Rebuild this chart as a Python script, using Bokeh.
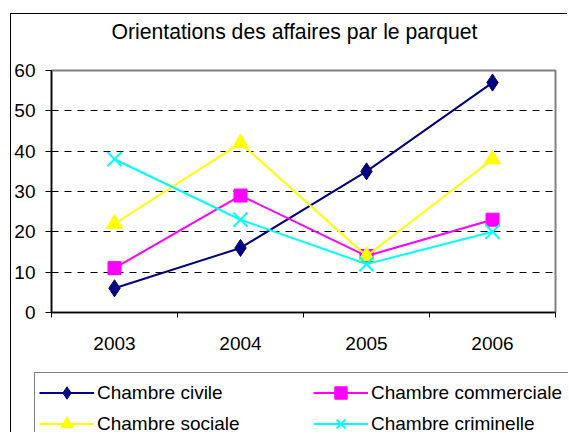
from bokeh.plotting import figure
from bokeh.models import (ColumnDataSource, FixedTicker, Legend, LegendItem, Range1d, Title)
from bokeh.embed import file_html
from bokeh.resources import INLINE

years = ["2003", "2004", "2005", "2006"]
civile = [6, 16, 35, 57]
commerciale = [11, 29, 14, 23]
sociale = [22, 42, 14, 38]
criminelle = [38, 23, 12, 20]
y_ticks = [0, 10, 20, 30, 40, 50, 60]
grid_ticks = [10, 20, 30, 40, 50]

series = [
    ("Chambre civile", "civile", civile, "#000080", "diamond", 17),
    ("Chambre commerciale", "commerciale", commerciale, "#FF00FF", "square", 13),
    ("Chambre sociale", "sociale", sociale, "#FFFF00", "triangle", 16),
    ("Chambre criminelle", "criminelle", criminelle, "#00FFFF", "x", 20),
]

xs = [i + 0.5 for i in range(len(years))]
FONT = "Liberation Sans"
W = 557

src = ColumnDataSource(dict(x=xs, civile=civile, commerciale=commerciale,
                            sociale=sociale, criminelle=criminelle))

# ---------------- main chart ----------------
p = figure(width=W, height=346, output_backend="svg", toolbar_location=None,
           x_range=Range1d(0, len(years)), y_range=Range1d(0, 60),
           min_border_left=40, min_border_right=13, min_border_top=56, min_border_bottom=48,
           title="Orientations des affaires par le parquet")
p.styles = {"border-left": "1px solid black", "border-top": "1px solid black",
            "margin-left": "10px", "margin-top": "13px"}
p.background_fill_color = "white"
p.border_fill_color = "white"
p.outline_line_color = "#808080"
p.outline_line_width = 2

p.title.text_font = FONT
p.title.text_font_size = "21.2px"
p.title.text_font_style = "normal"
p.title.align = "left"
p.title.offset = 60
p.title.vertical_align = "bottom"
p.title.text_color = "black"
p.title.standoff = 0

spacer = Title(text=" ", text_font_size="2px", standoff=24)
p.add_layout(spacer, "above")

p.xaxis.ticker = FixedTicker(ticks=xs, minor_ticks=list(range(len(years) + 1)))
p.xaxis.major_label_overrides = {x: y for x, y in zip(xs, years)}
p.xaxis.major_tick_out = 0
p.xaxis.major_tick_in = 0
p.xaxis.minor_tick_out = 5
p.xaxis.minor_tick_in = 0
p.xaxis.minor_tick_line_color = "black"
p.xaxis.axis_line_color = "black"
p.xaxis.axis_line_width = 1.5
p.xaxis.major_label_standoff = 19
p.xaxis.major_label_text_font = FONT
p.xaxis.major_label_text_font_size = "19px"
p.xaxis.major_label_text_color = "black"

p.yaxis.ticker = FixedTicker(ticks=y_ticks)
p.yaxis.major_tick_out = 6
p.yaxis.major_tick_in = 0
p.yaxis.minor_tick_out = 0
p.yaxis.minor_tick_in = 0
p.yaxis.axis_line_color = "black"
p.yaxis.axis_line_width = 1.5
p.yaxis.major_tick_line_color = "black"
p.yaxis.major_label_standoff = 10
p.yaxis.major_label_text_font = FONT
p.yaxis.major_label_text_font_size = "19px"
p.yaxis.major_label_text_color = "black"

p.xgrid.visible = False
p.ygrid.ticker = FixedTicker(ticks=grid_ticks)
p.ygrid.grid_line_color = "black"
p.ygrid.grid_line_dash = "7 6"
p.ygrid.grid_line_width = 1


def draw(fig, col, color, marker, size):
    ln = fig.line("x", col, source=src, line_color=color, line_width=2)
    if marker == "x":
        mk = fig.scatter("x", col, source=src, marker=marker, size=size,
                         line_color=color, line_width=2)
    else:
        mk = fig.scatter("x", col, source=src, marker=marker, size=size,
                         fill_color=color, line_color=color)
    return ln, mk


for label, col, vals, color, marker, size in series:
    draw(p, col, color, marker, size)

# ---------------- legend strip (separate root, same data off-range) ----------------
lg = figure(width=W, height=73, output_backend="svg", toolbar_location=None,
            x_range=Range1d(0, len(years)), y_range=Range1d(1000, 1001),
            min_border=0, min_border_left=0, min_border_right=0,
            min_border_top=0, min_border_bottom=0)
lg.styles = {"border-left": "1px solid black", "margin-left": "10px"}
lg.axis.visible = False
lg.grid.visible = False
lg.outline_line_color = None
lg.background_fill_color = "white"
lg.border_fill_color = "white"

items = []
for label, col, vals, color, marker, size in series:
    ln, mk = draw(lg, col, color, marker, size)
    items.append(LegendItem(label=label, renderers=[ln, mk]))

legend = Legend(items=items, orientation="horizontal", ncols=2)
legend.location = (23, -12)
legend.border_line_color = "black"
legend.border_line_width = 1
legend.background_fill_color = "white"
legend.background_fill_alpha = 1
legend.label_text_font = FONT
legend.label_text_font_size = "19px"
legend.label_text_color = "black"
legend.glyph_width = 55
legend.glyph_height = 31
legend.label_standoff = 3
legend.label_height = 31
legend.spacing = 0
legend.padding = 4
legend.margin = 0
legend.label_width = 216
lg.add_layout(legend, "center")

open("out.html", "w").write(file_html([p, lg], INLINE))
